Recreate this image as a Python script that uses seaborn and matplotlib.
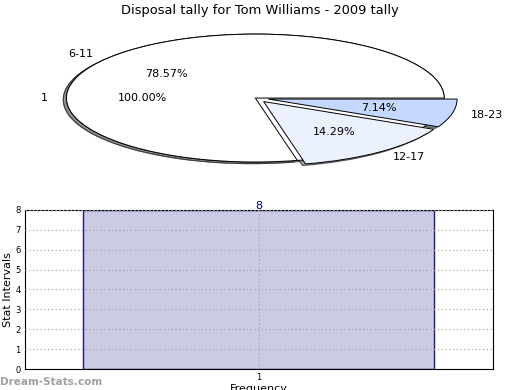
import numpy as np
import seaborn as sns
import matplotlib.pyplot as plt

# data
total_labels = ['1']
total_values = [1]
interval_labels = ['6-11', '12-17', '18-23']
interval_values = [11, 2, 1]
interval_colors = ['white', '#EBF1FF', '#C5D8FF']
interval_explode = [0, 0.07, 0.07]

freq_labels = ['1']
freq_counts = [8]

sns.set_style('white')
plt.rcParams['font.family'] = ['DejaVu Sans']
plt.rcParams['text.color'] = 'black'
plt.rcParams['axes.labelcolor'] = 'black'
plt.rcParams['xtick.color'] = 'black'
plt.rcParams['ytick.color'] = 'black'

fig = plt.figure(figsize=(5.2, 3.9), dpi=100)

########## pie on top ##########
shadow_style = {'ox': -0.012, 'oy': -0.018, 'shade': 0.45, 'alpha': 0.8,
                'edgecolor': '#333333', 'linewidth': 0.8}
ax1 = fig.add_axes([0.037, 0.5436, 0.908, 0.41])
ax1.pie(total_values, labels=total_labels, colors=['white'], autopct='%.2f%%',
        shadow=shadow_style, startangle=0,
        wedgeprops={'edgecolor': 'black', 'linewidth': 0.7},
        textprops={'fontsize': 8})
ax1.pie(interval_values, labels=interval_labels, colors=interval_colors,
        explode=interval_explode, autopct='%.2f%%', shadow=shadow_style, startangle=0,
        wedgeprops={'edgecolor': 'black', 'linewidth': 0.7},
        textprops={'fontsize': 8})
ax1.set_aspect('auto')
ax1.set_xlim(-1.25, 1.25)
ax1.set_ylim(-1.25, 1.25)
fig.text(0.5, 0.965, 'Disposal tally for Tom Williams - 2009 tally', fontsize=9.4,
         ha='center', va='baseline')

########## bar at the bottom ##########
ax2 = fig.add_axes([0.048, 0.0538, 0.9, 0.408])
sns.barplot(x=freq_labels, y=freq_counts, width=0.75, color='#CBCBE4',
            edgecolor='#1A1A8C', linewidth=1, saturation=1, ax=ax2)
ax2.bar_label(ax2.containers[0], color='#00008B', fontsize=8, padding=-1)
ax2.set_ylim(0, 8)
ax2.set_yticks(range(0, 9))
ax2.set_xlim(-0.5, 0.5)
ax2.grid(True, linestyle=(0, (1, 2)), color='#aaaaaa', linewidth=0.9)
ax2.set_axisbelow(False)
for s in ax2.spines.values():
    s.set_visible(True)
    s.set_color('black')
    s.set_linewidth(0.8)
ax2.tick_params(axis='both', labelsize=6, length=2, pad=1)
ax2.set_ylabel('Stat Intervals', fontsize=8, labelpad=2)
ax2.set_xlabel('Frequency', fontsize=8, labelpad=1)

fig.text(0.0, 0.012, 'Dream-Stats.com', color='#a0a0a0', fontsize=7.5,
         fontweight='bold')

fig.savefig('out.png', dpi=100)
